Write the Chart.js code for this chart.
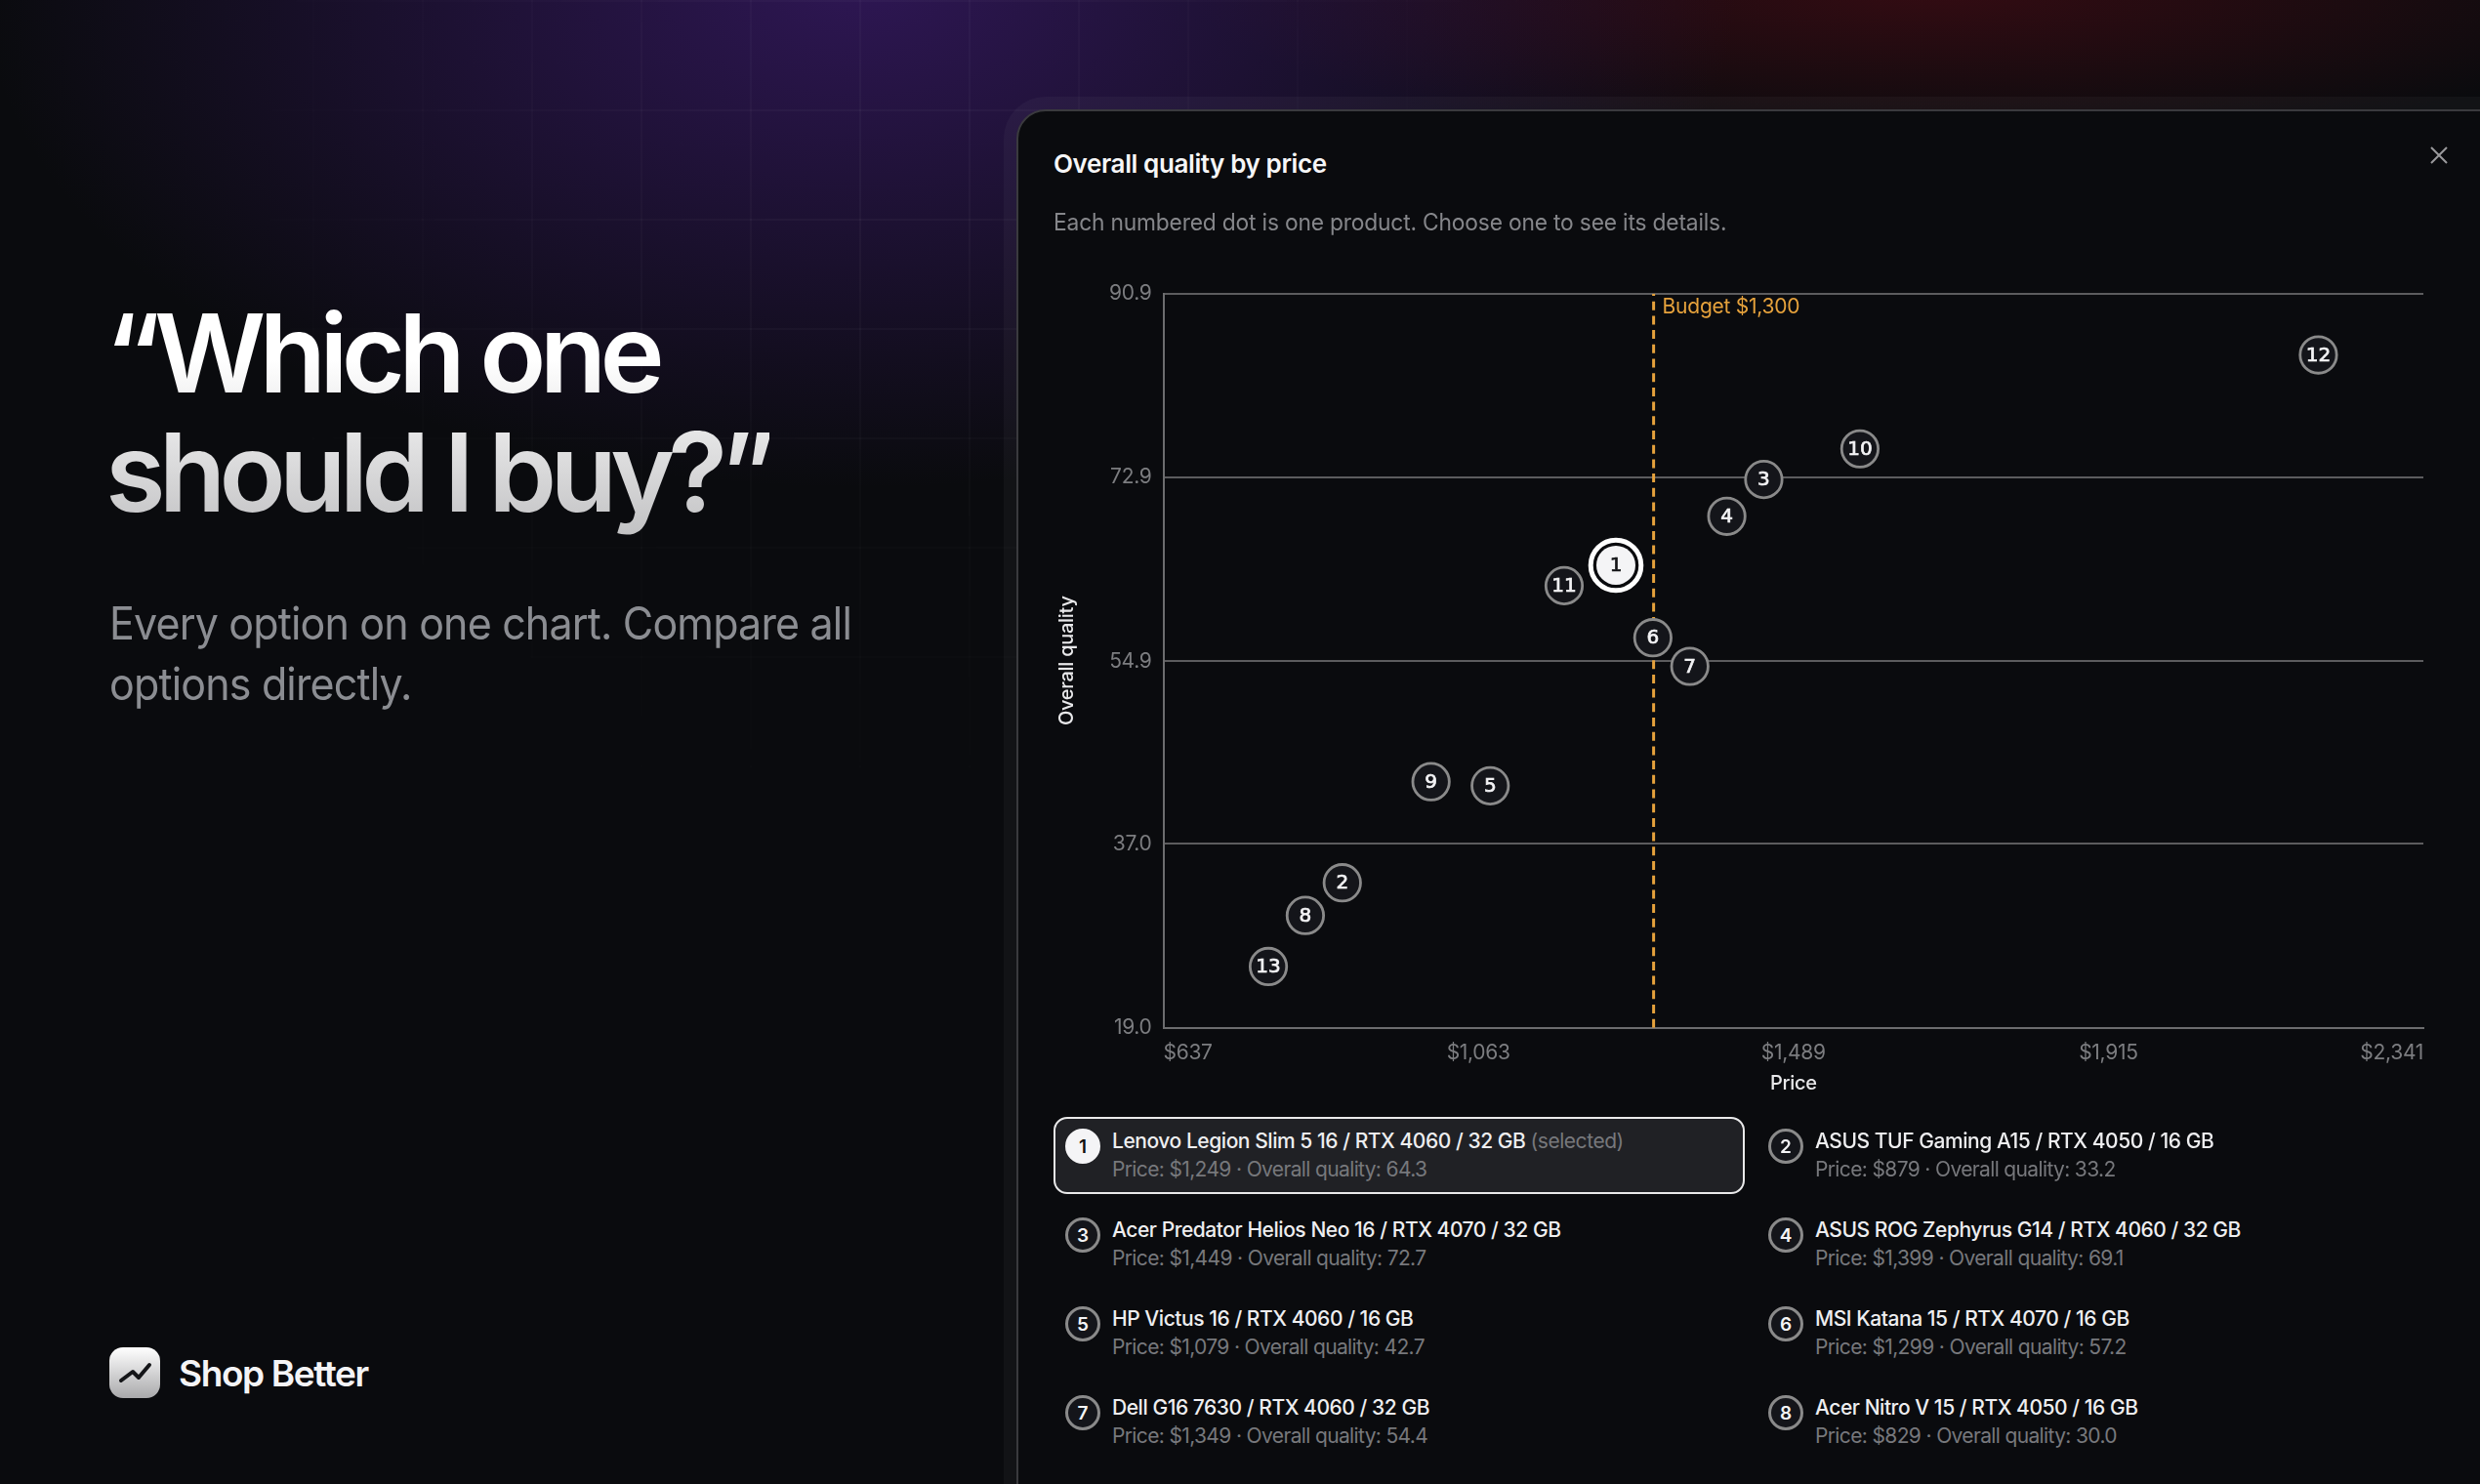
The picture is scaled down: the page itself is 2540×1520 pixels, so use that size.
<!DOCTYPE html>
<html>
<head>
<meta charset="utf-8">
<title>Overall quality by price</title>
<script src="https://cdn.jsdelivr.net/npm/chart.js@4"></script>
<style>
html, body { margin: 0; padding: 0; background: #0a0b0e; }
body { width: 2540px; height: 1520px; position: relative; overflow: hidden; font-family: Inter, sans-serif; color: #fff; }
.glow { position: absolute; inset: 0;
  background:
    radial-gradient(ellipse 900px 520px at 880px -20px, rgba(70,30,130,.6), rgba(70,30,130,0) 100%),
    radial-gradient(ellipse 760px 160px at 1980px -10px, rgba(100,12,24,.46), rgba(100,12,24,0) 100%); }
.lines { position: absolute; inset: 0;
  background-image: linear-gradient(rgba(255,255,255,.035) 2px, transparent 2px), linear-gradient(90deg, rgba(255,255,255,.035) 2px, transparent 2px);
  background-size: 112px 112px; background-position: 96px 0;
  -webkit-mask-image: radial-gradient(ellipse 750px 720px at 900px 180px, #000, transparent 100%); }
h1 { position: absolute; left: 106px; top: 300px; margin: 0; font-size: 112px; line-height: 122px; font-weight: 600; letter-spacing: -6.8px;
  background: linear-gradient(180deg, #fff 0%, #fff 25%, #b9b9bb 100%); -webkit-background-clip: text; background-clip: text; color: transparent; padding-bottom: 30px; padding-left: 2px; white-space: nowrap; }
.lead { position: absolute; left: 112px; top: 607px; margin: 0; font-size: 46px; line-height: 62px; color: #8b8d92; letter-spacing: -.9px; white-space: nowrap; transform: scaleX(.935); transform-origin: left top; }
.brand { position: absolute; left: 112px; top: 1380px; display: flex; align-items: center; }
.brand span { margin-left: 19px; font-size: 37px; font-weight: 600; color: #f4f4f6; letter-spacing: -1.4px; }
.brand svg { display: block; }
.card { position: absolute; left: 1041px; top: 112px; width: 1530px; height: 1500px; box-sizing: border-box; background: #0a0b0e; border: 2px solid #3a3a3e; border-radius: 30px; box-shadow: 0 0 0 13px rgba(255,255,255,.035); }
.title { position: absolute; left: 1079px; top: 151px; font-size: 26px; line-height: 34px; font-weight: 600; color: #f6f6f7; letter-spacing: -.4px; white-space: nowrap; }
.sub { position: absolute; left: 1079px; top: 212px; font-size: 24px; line-height: 32px; color: #85868a; letter-spacing: -.2px; white-space: nowrap; transform: scaleX(.95); transform-origin: left top; }
.close { position: absolute; left: 2489px; top: 150px; }
#chart { position: absolute; left: 1060px; top: 270px; }
.row { position: absolute; width: 708px; height: 79px; box-sizing: border-box; border-radius: 14px; }
.row.sel { background: #202125; border: 2px solid #e9e9ea; }
.badge { position: absolute; left: 12px; top: 12px; width: 36px; height: 36px; box-sizing: border-box; border: 3px solid #8a8a8a; border-radius: 50%; background: #14151a; color: #f4f4f6; font-size: 19px; font-weight: 600; display: flex; align-items: center; justify-content: center; }
.sel .badge { background: #f4f4f6; border-color: #f4f4f6; color: #111; left: 10px; top: 10px; }
.name { position: absolute; left: 60px; top: 11px; font-size: 21px; line-height: 28px; color: #eeeef0; font-weight: 500; letter-spacing: -.45px; white-space: nowrap; }
.name em { font-style: normal; font-weight: 400; color: #77787c; }
.meta { position: absolute; left: 60px; top: 40px; font-size: 21px; line-height: 28px; color: #77787c; letter-spacing: -.64px; white-space: nowrap; }
.sel .name { left: 58px; top: 9px; }
.sel .meta { left: 58px; top: 38px; }
</style>
</head>
<body>
<div class="glow"></div>
<div class="lines"></div>
<h1>“Which one<br>should I buy?”</h1>
<p class="lead">Every option on one chart. Compare all<br>options directly.</p>
<div class="brand">
  <svg width="52" height="52" viewBox="0 0 52 52">
    <defs><linearGradient id="ic" x1="0" y1="0" x2="0" y2="1"><stop offset="0" stop-color="#fff"/><stop offset="1" stop-color="#a9a9ab"/></linearGradient></defs>
    <rect width="52" height="52" rx="14" fill="url(#ic)"/>
    <polyline points="12,34 24,25 30,31 41,18" fill="none" stroke="#141518" stroke-width="4" stroke-linecap="round" stroke-linejoin="round"/>
  </svg>
  <span>Shop Better</span>
</div>
<div class="card"></div>
<div class="title">Overall quality by price</div>
<div class="sub">Each numbered dot is one product. Choose one to see its details.</div>
<svg class="close" width="18" height="18" viewBox="0 0 18 18"><path d="M1 1L17 17M17 1L1 17" stroke="#9a9a9c" stroke-width="2"/></svg>
<canvas id="chart" width="1460" height="880"></canvas>
<div id="list"></div>
<script>
// product data (1-8 from the list, 9-13 off the dots)
const ids = [1, 2, 3, 4, 5, 6, 7, 8, 9, 10, 11, 12, 13];
const prices = [1249, 879, 1449, 1399, 1079, 1299, 1349, 829, 999, 1579, 1179, 2199, 779];
const quality = [64.3, 33.2, 72.7, 69.1, 42.7, 57.2, 54.4, 30.0, 43.1, 75.7, 62.3, 84.9, 25.0];
const names = [
  'Lenovo Legion Slim 5 16 / RTX 4060 / 32 GB',
  'ASUS TUF Gaming A15 / RTX 4050 / 16 GB',
  'Acer Predator Helios Neo 16 / RTX 4070 / 32 GB',
  'ASUS ROG Zephyrus G14 / RTX 4060 / 32 GB',
  'HP Victus 16 / RTX 4060 / 16 GB',
  'MSI Katana 15 / RTX 4070 / 16 GB',
  'Dell G16 7630 / RTX 4060 / 32 GB',
  'Acer Nitro V 15 / RTX 4050 / 16 GB'
];
const xTicks = [637, 1063, 1489, 1915, 2341];
const yTicks = [19.0, 37.0, 54.9, 72.9, 90.9];
const budget = 1300;
const selected = 0;

const money = v => '$' + v.toLocaleString('en-US');

// the list under the chart
const list = document.getElementById('list');
names.forEach((name, i) => {
  const row = document.createElement('div');
  row.className = 'row' + (i === selected ? ' sel' : '');
  row.style.left = (1079 + (i % 2) * 720) + 'px';
  row.style.top = (1144 + Math.floor(i / 2) * 91) + 'px';
  row.innerHTML = '<div class="badge">' + ids[i] + '</div>' +
    '<div class="name">' + name + (i === selected ? ' <em>(selected)</em>' : '') + '</div>' +
    '<div class="meta">Price: ' + money(prices[i]) + ' · Overall quality: ' + quality[i].toFixed(1) + '</div>';
  list.appendChild(row);
});

// numbers in the dots and the budget label
const dotLabels = {
  id: 'dotLabels',
  beforeDraw(chart) { chart.ctx.letterSpacing = '-0.3px'; },
  afterDatasetsDraw(chart) {
    const ctx = chart.ctx;
    const pts = chart.getDatasetMeta(0).data;
    ctx.save();
    ctx.letterSpacing = '0px';
    ctx.textAlign = 'center';
    ctx.textBaseline = 'middle';
    ctx.font = '400 20px "DejaVu Sans"';
    ctx.lineWidth = 0.7;
    pts.forEach((p, i) => {
      ctx.fillStyle = ctx.strokeStyle = i === selected ? '#141518' : '#f4f4f6';
      ctx.fillText(ids[i], p.x, p.y + 1);
      ctx.strokeText(ids[i], p.x, p.y + 1);
    });
    ctx.font = '400 21px Inter';
    ctx.fillStyle = '#e6a23c';
    ctx.textAlign = 'left';
    ctx.letterSpacing = '-0.25px';
    ctx.fillText('Budget $1,300', chart.scales.x.getPixelForValue(budget) + 9, chart.scales.y.top + 14);
    ctx.restore();
  }
};

new Chart(document.getElementById('chart'), {
  type: 'scatter',
  data: {
    datasets: [
      {
        label: 'Products',
        data: prices.map((p, i) => ({ x: p, y: quality[i] })),
        order: 0,
        pointRadius: prices.map((p, i) => i === selected ? 20 : 18.7),
        pointBorderWidth: prices.map((p, i) => i === selected ? 0 : 2.8),
        pointBorderColor: '#8a8a8a',
        pointBackgroundColor: prices.map((p, i) => i === selected ? '#f4f4f6' : '#14151a')
      },
      {
        label: 'Selected',
        data: [{ x: prices[selected], y: quality[selected] }],
        order: 1,
        pointRadius: 25.8,
        pointBorderWidth: 5,
        pointBorderColor: '#ffffff',
        pointBackgroundColor: '#0a0b0e'
      },
      {
        label: 'Budget',
        data: [{ x: budget, y: yTicks[0] }, { x: budget, y: yTicks[4] }],
        order: 2,
        showLine: true,
        pointRadius: 0,
        borderColor: '#e6a23c',
        borderWidth: 3,
        borderDash: [9, 5.7]
      }
    ]
  },
  options: {
    responsive: false,
    animation: false,
    devicePixelRatio: 1,
    layout: { padding: { top: 30, right: 38, left: 0, bottom: 0 } },
    plugins: { legend: { display: false }, tooltip: { enabled: false } },
    scales: {
      x: {
        type: 'linear',
        min: xTicks[0],
        max: xTicks[4],
        afterBuildTicks: s => { s.ticks = xTicks.map(v => ({ value: v })); },
        afterFit: s => { s.height = 97.3; },
        grid: { display: false },
        border: { color: '#6c6c6e', width: 2 },
        ticks: { color: '#7c7d80', font: { family: 'Inter', size: 21 }, padding: 5, align: 'inner', maxRotation: 0, autoSkip: false, callback: v => money(v) },
        title: { display: true, text: 'Price', color: '#e8e8ea', font: { family: 'Inter', size: 20, weight: '500' }, padding: { top: 6, bottom: 28 } }
      },
      y: {
        type: 'linear',
        min: yTicks[0],
        max: yTicks[4],
        afterBuildTicks: s => { s.ticks = yTicks.map(v => ({ value: v })); },
        afterFit: s => { s.width = 131.5; },
        grid: { color: '#5c5c5e', lineWidth: 2, drawTicks: false },
        border: { color: '#6c6c6e', width: 2 },
        ticks: { color: '#7c7d80', font: { family: 'Inter', size: 21 }, padding: 12, autoSkip: false, callback: v => v.toFixed(1) },
        title: { display: true, text: 'Overall quality', color: '#e8e8ea', font: { family: 'Inter', size: 20, weight: '500' }, padding: { top: 21, bottom: 0 } }
      }
    }
  },
  plugins: [dotLabels]
});
</script>
</body>
</html>
